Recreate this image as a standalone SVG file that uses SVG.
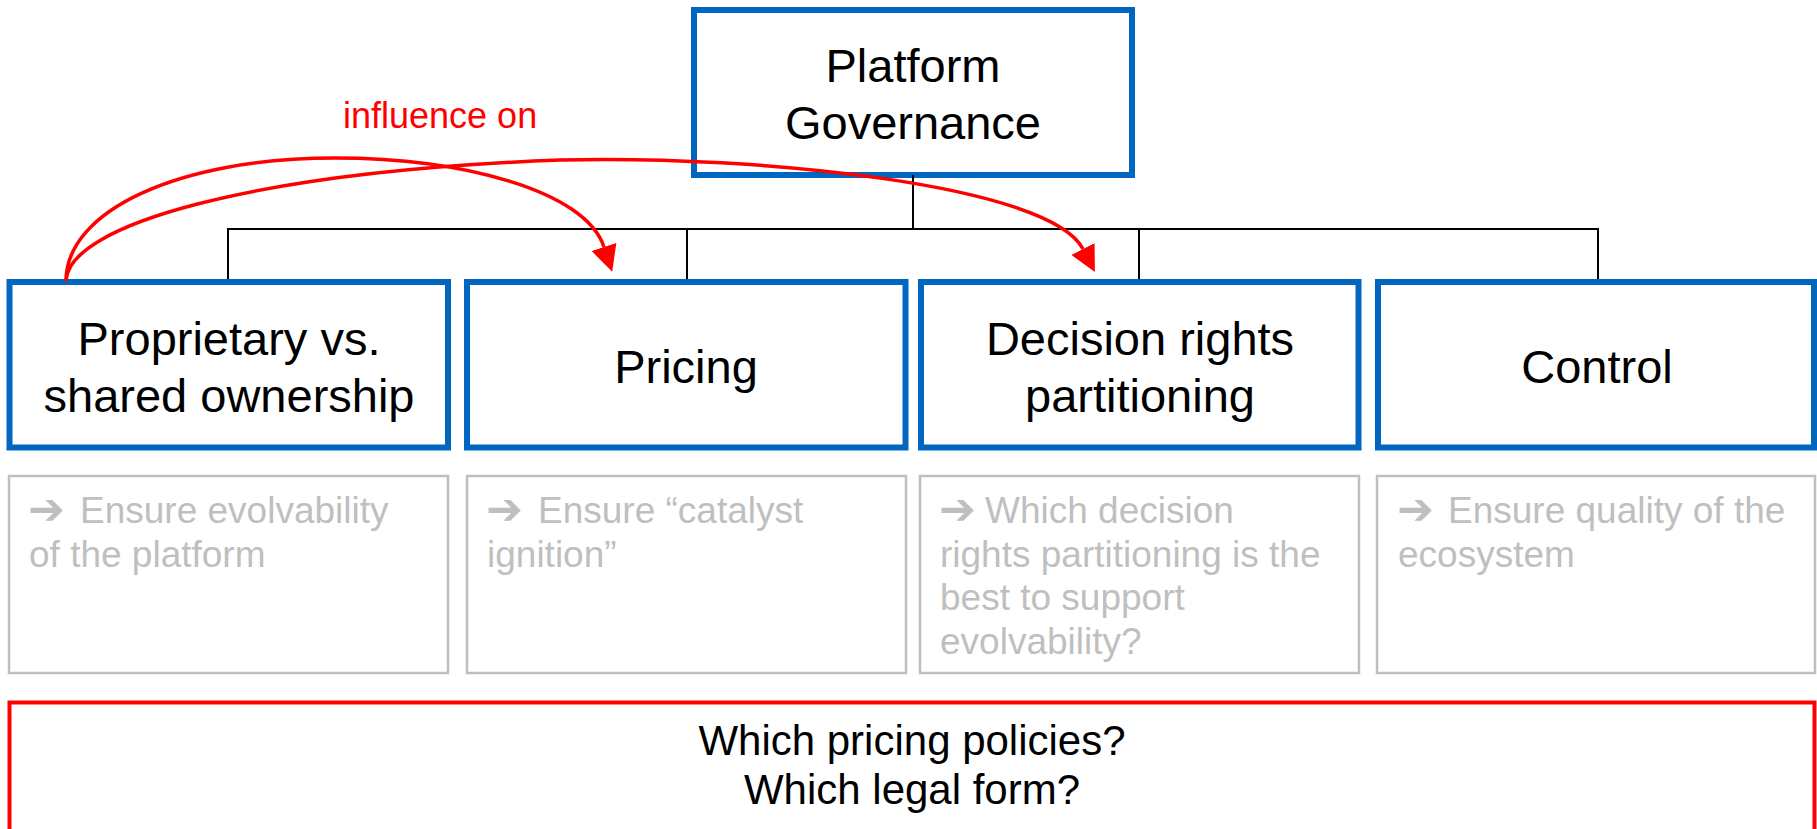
<svg xmlns="http://www.w3.org/2000/svg" width="1817" height="829" viewBox="0 0 1817 829">
<style>
text{font-family:"Liberation Sans",Arial,"DejaVu Sans",sans-serif}
.main{fill:#fff;stroke:#0066C0;stroke-width:6}
.note{fill:#fff;stroke:#BFBFBF;stroke-width:2.5}
.t{font-size:47px;fill:#000;text-anchor:middle}
.g{font-size:37px;fill:#BFBFBF}
.arr{font-family:"DejaVu Sans",sans-serif;font-weight:bold;font-size:44px}
.tree{fill:none;stroke:#000;stroke-width:2}
.infl{fill:none;stroke:#FF0000;stroke-width:3.5}
</style>
<defs>
<marker id="ah" markerUnits="userSpaceOnUse" markerWidth="30" markerHeight="30" refX="0" refY="13" orient="auto" viewBox="0 0 30 26">
<path d="M0,0 L26,13 L0,26 Z" fill="#FF0000"/>
</marker>
</defs>
<rect x="0" y="0" width="1817" height="829" fill="#fff"/>
<g id="platform-governance">
<rect class="main" x="694" y="10" width="438" height="165"/>
<text class="t" x="913" y="82">Platform</text>
<text class="t" x="913" y="139">Governance</text>
</g>
<g id="ownership">
<rect class="main" x="9.5" y="282" width="438.5" height="165.5"/>
<text class="t" x="229" y="355">Proprietary vs.</text>
<text class="t" x="229" y="412">shared ownership</text>
</g>
<g id="pricing">
<rect class="main" x="467" y="282" width="438.5" height="165.5"/>
<text class="t" x="686" y="383">Pricing</text>
</g>
<g id="decision-rights">
<rect class="main" x="921" y="282" width="437.5" height="165.5"/>
<text class="t" x="1140" y="355">Decision rights</text>
<text class="t" x="1140" y="412">partitioning</text>
</g>
<g id="control">
<rect class="main" x="1378" y="282" width="436" height="165.5"/>
<text class="t" x="1597" y="383">Control</text>
</g>
<g id="note-ownership">
<rect class="note" x="9" y="476" width="439" height="197"/>
<text class="g" y="523"><tspan class="arr" x="28" y="524">➔</tspan><tspan x="80" y="523">Ensure evolvability</tspan></text>
<text class="g" x="29" y="567">of the platform</text>
</g>
<g id="note-pricing">
<rect class="note" x="467" y="476" width="439" height="197"/>
<text class="g" y="523"><tspan class="arr" x="486" y="524">➔</tspan><tspan x="538" y="523">Ensure “catalyst</tspan></text>
<text class="g" x="487" y="567">ignition”</text>
</g>
<g id="note-decision">
<rect class="note" x="920" y="476" width="439" height="197"/>
<text class="g" y="523"><tspan class="arr" x="939" y="524">➔</tspan><tspan x="985" y="523">Which decision</tspan></text>
<text class="g" x="940" y="566.5">rights partitioning is the</text>
<text class="g" x="940" y="610">best to support</text>
<text class="g" x="940" y="653.5">evolvability?</text>
</g>
<g id="note-control">
<rect class="note" x="1377" y="476" width="438" height="197"/>
<text class="g" y="523"><tspan class="arr" x="1397" y="524">➔</tspan><tspan x="1448" y="523">Ensure quality of the</tspan></text>
<text class="g" x="1398" y="567">ecosystem</text>
</g>
<g id="questions">
<rect x="9.5" y="702.5" width="1805" height="140" fill="#fff" stroke="#FF0000" stroke-width="4"/>
<text x="912" y="755" font-size="42" text-anchor="middle">Which pricing policies?</text>
<text x="912" y="804" font-size="42" text-anchor="middle">Which legal form?</text>
</g>
<g id="connectors">
<path class="tree" d="M913,175 V229 M228,279 V229 H1598 V279 M687,229 V279 M1139,229 V279"/>
<path class="infl" marker-end="url(#ah)" d="M66,281 C66,210 180,158 335,158 C460,158 585,190 604,247"/>
<path class="infl" marker-end="url(#ah)" d="M66,281 C68,225 250,172 560,160 C760,155 1050,185 1083,249"/>
<text x="343" y="128" font-size="36" fill="#FF0000">influence on</text>
</g>
</svg>
